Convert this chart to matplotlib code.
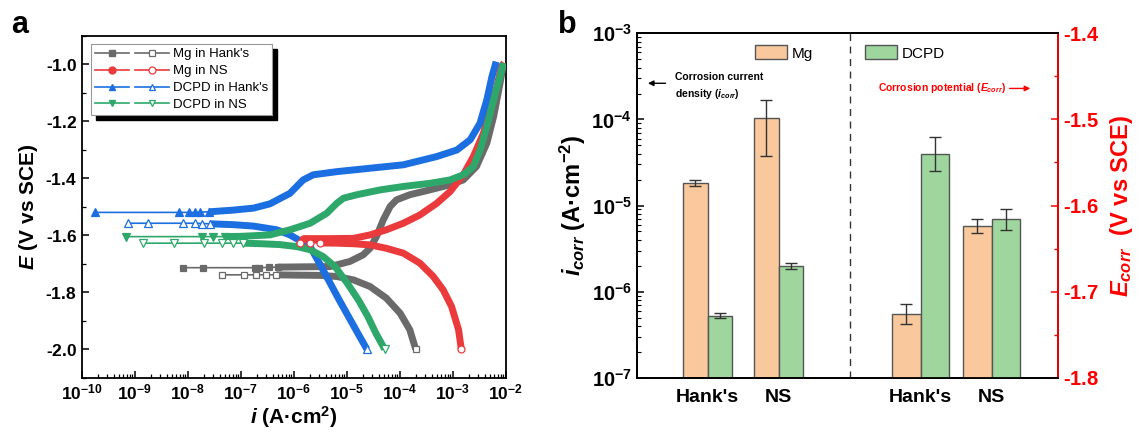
import matplotlib
matplotlib.use("Agg")
import matplotlib.pyplot as plt
import numpy as np
from matplotlib.lines import Line2D
from matplotlib.patches import Patch, Rectangle
from matplotlib.legend_handler import HandlerTuple
from matplotlib.ticker import LogLocator, MultipleLocator, NullFormatter, FuncFormatter

plt.rcParams['font.family'] = ['Liberation Sans', 'DejaVu Sans']
plt.rcParams['font.weight'] = 'bold'
plt.rcParams['axes.labelweight'] = 'bold'
plt.rcParams['mathtext.fontset'] = 'custom'
plt.rcParams['mathtext.rm'] = 'Liberation Sans:bold'
plt.rcParams['mathtext.bf'] = 'Liberation Sans:bold'
plt.rcParams['mathtext.it'] = 'Liberation Sans:italic:bold'
plt.rcParams['mathtext.default'] = 'it'

# ---- panel a: polarization curves (i in A/cm2, E in V vs SCE) ----
# anodic branches (filled markers), from low to high current
gray_an_i = [8.3e-9, 1.95e-8, 1.82e-7, 2.19e-7, 3.39e-7, 5.0e-7, 4.9e-6, 6.5e-6, 1.15e-5, 2.04e-5,
             2.75e-5, 3.63e-5, 4.9e-5, 6.6e-5, 8.7e-5, 1.55e-4, 3.7e-4, 8.9e-4, 1.58e-3, 2.8e-3,
             4.4e-3, 5.9e-3, 7.8e-3, 9.1e-3]
gray_an_E = [-1.714, -1.714, -1.714, -1.714, -1.713, -1.712, -1.710, -1.704, -1.692, -1.669,
             -1.646, -1.605, -1.546, -1.499, -1.476, -1.458, -1.441, -1.423, -1.406, -1.359,
             -1.277, -1.184, -1.067, -0.996]
gray_ca_i = [4.4e-8, 1.17e-7, 1.95e-7, 2.95e-7, 4.7e-7, 1.0e-6, 3.2e-6, 6.5e-6, 1.35e-5, 2.75e-5,
             5.6e-5, 1.02e-4, 1.55e-4, 2.0e-4]
gray_ca_E = [-1.739, -1.739, -1.739, -1.739, -1.739, -1.740, -1.741, -1.745, -1.757, -1.780,
             -1.821, -1.874, -1.932, -2.0]

red_an_i = [1.51e-6, 5.0e-6, 1.35e-5, 2.75e-5, 5.6e-5, 1.17e-4, 2.4e-4, 5.0e-4, 8.9e-4, 1.58e-3,
            2.45e-3, 3.8e-3, 5.0e-3, 6.8e-3, 8.3e-3, 9.3e-3]
red_an_E = [-1.612, -1.612, -1.611, -1.599, -1.581, -1.558, -1.529, -1.488, -1.447, -1.388,
            -1.324, -1.242, -1.160, -1.078, -1.008, -0.995]
red_ca_i = [1.32e-6, 2.04e-6, 3.16e-6, 6.5e-6, 1.35e-5, 2.75e-5, 5.6e-5, 1.17e-4, 2.4e-4, 4.3e-4,
            6.6e-4, 9.5e-4, 1.29e-3, 1.45e-3]
red_ca_E = [-1.626, -1.626, -1.627, -1.628, -1.630, -1.634, -1.646, -1.663, -1.698, -1.745,
            -1.792, -1.850, -1.932, -2.0]

blue_an_i = [1.82e-10, 6.9e-9, 1.05e-8, 1.35e-8, 1.74e-8, 2.5e-8, 3.55e-8, 7.2e-8, 1.74e-7, 3.55e-7,
             8.5e-7, 1.51e-6, 2.34e-6, 6.5e-6, 2.75e-5, 1.17e-4, 5.0e-4, 1.2e-3, 2.14e-3, 3.27e-3,
             4.4e-3, 5.5e-3, 6.6e-3]
blue_an_E = [-1.520, -1.520, -1.520, -1.520, -1.519, -1.518, -1.516, -1.512, -1.505, -1.490,
             -1.453, -1.406, -1.388, -1.377, -1.365, -1.353, -1.324, -1.301, -1.265, -1.207,
             -1.125, -1.043, -0.991]
blue_ca_i = [7.4e-10, 1.78e-9, 8.1e-9, 1.35e-8, 1.9e-8, 2.6e-8, 7.2e-8, 1.74e-7, 4.8e-7, 8.5e-7,
             2.04e-6, 3.3e-6, 7.2e-6, 1.62e-5, 2.4e-5]
blue_ca_E = [-1.558, -1.558, -1.558, -1.558, -1.559, -1.560, -1.563, -1.568, -1.581, -1.599,
             -1.640, -1.710, -1.827, -1.944, -2.0]

green_an_i = [6.9e-10, 1.9e-8, 2.95e-8, 5.0e-8, 1.0e-7, 3.55e-7, 8.5e-7, 2.04e-6, 4.2e-6, 6.5e-6,
              8.7e-6, 1.55e-5, 4.3e-5, 1.17e-4, 3.7e-4, 8.9e-4, 1.58e-3, 2.45e-3, 3.27e-3, 4.4e-3,
              5.9e-3, 7.8e-3, 9.1e-3]
green_an_E = [-1.605, -1.605, -1.605, -1.605, -1.604, -1.599, -1.581, -1.558, -1.523, -1.488,
              -1.470, -1.458, -1.441, -1.429, -1.418, -1.406, -1.388, -1.359, -1.301, -1.219,
              -1.125, -1.043, -0.996]
green_ca_i = [1.41e-9, 5.4e-9, 2.04e-8, 4.4e-8, 7.2e-8, 1.12e-7, 2.5e-7, 5.5e-7, 1.15e-6, 2.04e-6,
              3.6e-6, 6.0e-6, 1.02e-5, 1.66e-5, 2.5e-5, 3.55e-5, 5.2e-5]
green_ca_E = [-1.628, -1.628, -1.628, -1.628, -1.628, -1.628, -1.630, -1.633, -1.640, -1.651,
              -1.675, -1.710, -1.768, -1.827, -1.885, -1.944, -2.0]

series_names = ["Mg in Hank's", "Mg in NS", "DCPD in Hank's", "DCPD in NS"]

# ---- panel b: corrosion current density and potential ----
media = ["Hank's", "NS"]
icorr_mg = [1.84e-5, 1.03e-4]
icorr_mg_lo = [1.70e-5, 3.79e-5]
icorr_mg_hi = [1.98e-5, 1.67e-4]
icorr_dcpd = [5.25e-7, 1.98e-6]
icorr_dcpd_lo = [4.93e-7, 1.82e-6]
icorr_dcpd_hi = [5.6e-7, 2.15e-6]
ecorr_mg = [-1.726, -1.624]
ecorr_mg_err = [0.012, 0.008]
ecorr_dcpd = [-1.540, -1.616]
ecorr_dcpd_err = [0.020, 0.012]

c_gray, c_red, c_blue, c_green = '#6a6a6a', '#ea3a3c', '#1b6fe0', '#2ea86a'
c_mg, c_dcpd = '#f9c89c', '#9ed69e'


def dec_label(v, p):
    s = r"$\mathbf{%.1f}$" % abs(v)
    return ("-" + s) if v < 0 else s


fmt_dec = FuncFormatter(dec_label)
fmt_pow = FuncFormatter(lambda v, p: r"$\mathbf{10^{%d}}$" % int(round(np.log10(v))))

fig = plt.figure(figsize=(11.46, 4.37), dpi=100)
ax = fig.add_axes([0.0713, 0.1357, 0.370, 0.7826])


def branch(i, E, color, marker, ms, filled, ntail):
    i = np.asarray(i)
    E = np.asarray(E)
    fc = color if filled else 'white'
    # thin line through the sparse part, thick band where points are dense
    ax.plot(i[:ntail + 1], E[:ntail + 1], color=color, lw=1.2, zorder=3)
    ax.plot(i[ntail - 1:], E[ntail - 1:], color=color, lw=5, zorder=3, solid_capstyle='butt')
    idx = list(range(ntail))
    if not filled:
        idx.append(len(i) - 1)
    ax.plot(i[idx], E[idx], ls='none', marker=marker, ms=ms, mfc=fc, mec=color,
            mew=0.9, zorder=4)


branch(gray_an_i, gray_an_E, c_gray, 's', 4.5, True, 6)
branch(gray_ca_i, gray_ca_E, c_gray, 's', 4.5, False, 5)
branch(red_an_i, red_an_E, c_red, 'o', 5, True, 1)
branch(red_ca_i, red_ca_E, c_red, 'o', 5, False, 3)
branch(blue_an_i, blue_an_E, c_blue, '^', 5.5, True, 6)
branch(blue_ca_i, blue_ca_E, c_blue, '^', 5.5, False, 6)
branch(green_an_i, green_an_E, c_green, 'v', 5.5, True, 4)
branch(green_ca_i, green_ca_E, c_green, 'v', 5.5, False, 6)

ax.set_xscale('log')
ax.set_xlim(1e-10, 1e-2)
ax.set_ylim(-2.1, -0.9)
ax.xaxis.set_major_locator(LogLocator(base=10, numticks=20))
ax.xaxis.set_minor_locator(LogLocator(base=10, subs=np.arange(2, 10), numticks=100))
ax.xaxis.set_minor_formatter(NullFormatter())
ax.xaxis.set_major_formatter(fmt_pow)
ax.yaxis.set_major_locator(MultipleLocator(0.2))
ax.yaxis.set_minor_locator(MultipleLocator(0.1))
ax.yaxis.set_major_formatter(fmt_dec)
ax.tick_params(which='both', direction='in', top=False, right=False, labelsize=12.5)
ax.tick_params(which='major', length=5, width=1.1)
ax.tick_params(which='minor', length=3, width=0.9)
for s in ax.spines.values():
    s.set_linewidth(1.3)
ax.set_xlabel("$i$ (A·cm$\\mathregular{^{2}}$)", fontsize=15, labelpad=1)
ax.set_ylabel("$E$ (V vs SCE)", fontsize=15, labelpad=4)

handles = []
for col, m in zip([c_gray, c_red, c_blue, c_green], ['s', 'o', '^', 'v']):
    h1 = Line2D([], [], color=col, lw=1.2, marker=m, ms=5, mfc=col, mec=col)
    h2 = Line2D([], [], color=col, lw=1.2, marker=m, ms=5, mfc='white', mec=col, mew=0.9)
    handles.append((h1, h2))
leg = ax.legend(handles, series_names, handler_map={tuple: HandlerTuple(ndivide=None, pad=0.4)},
                loc='upper left', bbox_to_anchor=(0.022, 0.975), borderaxespad=0,
                prop={'weight': 'normal', 'size': 9.5}, handlelength=5.6, handletextpad=0.3,
                labelspacing=0.35, fancybox=False, edgecolor='#999999', framealpha=1,
                borderpad=0.3)
leg.get_frame().set_linewidth(0.8)

# black drop shadow of the legend box (5 px right and down)
fig.canvas.draw()
lb = leg.get_frame().get_window_extent(fig.canvas.get_renderer())
inv = ax.transAxes.inverted()
(x0, y0), (x1, y1) = inv.transform([[lb.x0 + 5, lb.y0 - 5], [lb.x1 + 5, lb.y1 - 5]])
ax.add_patch(Rectangle((x0, y0), x1 - x0, y1 - y0, transform=ax.transAxes, facecolor='black',
                       edgecolor='black', zorder=4.9, clip_on=False))

fig.text(0.010, 0.925, 'a', fontsize=22, fontweight='bold')
fig.text(0.487, 0.925, 'b', fontsize=22, fontweight='bold')

# ---- panel b ----
bx = fig.add_axes([0.5556, 0.1357, 0.3679, 0.788])
bx2 = bx.twinx()
pos_left = np.array([1, 2])
pos_right = np.array([4, 5])
wl, wr = 0.345, 0.4
base = 1e-7
edge = '#555555'

bx.set_yscale('log')
bx.set_ylim(1e-7, 1e-3)
bx.bar(pos_left - wl / 2, np.array(icorr_mg) - base, wl, bottom=base, color=c_mg,
       edgecolor=edge, lw=1, zorder=2)
bx.bar(pos_left + wl / 2, np.array(icorr_dcpd) - base, wl, bottom=base, color=c_dcpd,
       edgecolor=edge, lw=1, zorder=2)
bx.errorbar(pos_left - wl / 2, icorr_mg,
            yerr=[np.array(icorr_mg) - icorr_mg_lo, np.array(icorr_mg_hi) - icorr_mg],
            fmt='none', ecolor='#333333', elinewidth=1, capsize=4, capthick=1, zorder=3)
bx.errorbar(pos_left + wl / 2, icorr_dcpd,
            yerr=[np.array(icorr_dcpd) - icorr_dcpd_lo, np.array(icorr_dcpd_hi) - icorr_dcpd],
            fmt='none', ecolor='#333333', elinewidth=1, capsize=4, capthick=1, zorder=3)
bx.axvline(3, color='#333333', ls=(0, (5, 4)), lw=1)

bottom_e = -1.8
bx2.set_ylim(-1.8, -1.4)
bx2.bar(pos_right - wr / 2, np.array(ecorr_mg) - bottom_e, wr, bottom=bottom_e, color=c_mg,
        edgecolor=edge, lw=1, zorder=2)
bx2.bar(pos_right + wr / 2, np.array(ecorr_dcpd) - bottom_e, wr, bottom=bottom_e, color=c_dcpd,
        edgecolor=edge, lw=1, zorder=2)
bx2.errorbar(pos_right - wr / 2, ecorr_mg, yerr=ecorr_mg_err, fmt='none', ecolor='#333333',
             elinewidth=1, capsize=4, capthick=1, zorder=3)
bx2.errorbar(pos_right + wr / 2, ecorr_dcpd, yerr=ecorr_dcpd_err, fmt='none', ecolor='#333333',
             elinewidth=1, capsize=4, capthick=1, zorder=3)

bx.set_xlim(0, 5.94)
bx.set_xticks(list(pos_left) + list(pos_right))
bx.set_xticklabels(media + media, fontsize=14, fontweight='bold')
bx.tick_params(axis='x', length=0, pad=8)
bx.yaxis.set_major_locator(LogLocator(base=10, numticks=10))
bx.yaxis.set_minor_locator(LogLocator(base=10, subs=np.arange(2, 10), numticks=100))
bx.yaxis.set_major_formatter(fmt_pow)
bx.yaxis.set_minor_formatter(NullFormatter())
bx.tick_params(axis='y', which='both', direction='in', labelsize=14.5)
bx.tick_params(axis='y', which='major', length=5, width=1.1)
bx.tick_params(axis='y', which='minor', length=3, width=0.8)
bx.set_ylabel("$i_{corr}$ (A·cm$\\mathregular{^{-2}}$)", fontsize=17, labelpad=2)

bx2.yaxis.set_major_locator(MultipleLocator(0.1))
bx2.yaxis.set_minor_locator(MultipleLocator(0.05))
bx2.yaxis.set_major_formatter(fmt_dec)
bx2.tick_params(axis='y', which='both', direction='in', colors='red', labelsize=14.5)
bx2.tick_params(axis='y', which='major', length=5, width=1.1)
bx2.tick_params(axis='y', which='minor', length=3, width=1)
bx2.set_ylabel("$E_{corr}$  (V vs SCE)", fontsize=17, color='red', labelpad=6)
for a_ in (bx, bx2):
    for s in a_.spines.values():
        s.set_linewidth(1.3)
bx2.spines['right'].set_color('red')

lh = [Patch(facecolor=c_mg, edgecolor=edge), Patch(facecolor=c_dcpd, edgecolor=edge)]
bx2.legend(lh, ['Mg', 'DCPD'], ncol=2, loc='center', bbox_to_anchor=(0.506, 0.943),
           frameon=False, prop={'weight': 'normal', 'size': 11}, handlelength=2.1,
           handleheight=1.0, handletextpad=0.3, columnspacing=3.4)

bx2.annotate('', xy=(0.02, 0.855), xytext=(0.075, 0.855), xycoords='axes fraction',
             arrowprops=dict(arrowstyle='-|>', color='black', lw=1, mutation_scale=8))
bx2.text(0.091, 0.846, "Corrosion current\ndensity ($i_{corr}$)", transform=bx2.transAxes,
         fontsize=7.5, ha='left', va='center', linespacing=1.5)
bx2.text(0.877, 0.840, "Corrosion potential ($E_{corr}$)", transform=bx2.transAxes,
         fontsize=7.5, ha='right', va='center', color='red')
bx2.annotate('', xy=(0.94, 0.840), xytext=(0.878, 0.840), xycoords='axes fraction',
             arrowprops=dict(arrowstyle='-|>', color='red', lw=1, mutation_scale=8))

fig.savefig('out.png', dpi=100)
